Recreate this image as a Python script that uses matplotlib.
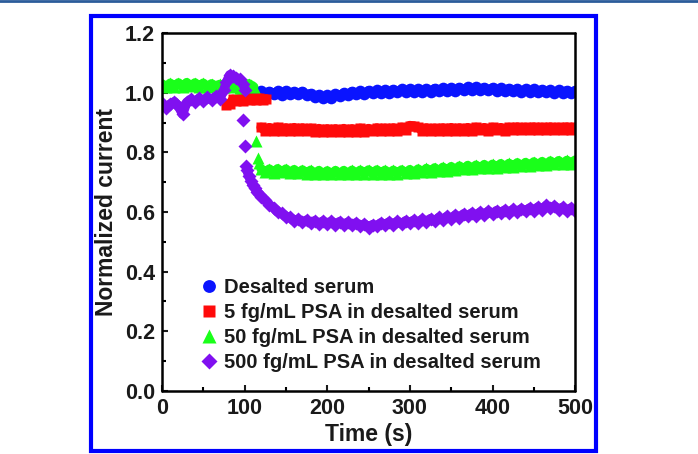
import numpy as np
import matplotlib.pyplot as plt
from matplotlib.lines import Line2D
from matplotlib.patches import Rectangle
from matplotlib.ticker import MultipleLocator

plt.rcParams['font.family'] = ['Liberation Sans', 'DejaVu Sans']
plt.rcParams['font.weight'] = 'bold'

# Desalted serum
blue_t = list(range(100, 501, 5))
blue_y = [1.006, 0.996, 1.005, 0.997, 1.006, 0.995, 1.004, 0.996, 1.005, 0.994,
          1.006, 0.997, 1.003, 0.995, 1.004, 0.992, 0.997, 0.987, 0.993, 0.983,
          0.991, 0.984, 0.995, 0.989, 0.999, 0.992, 1.004, 0.995, 1.005, 0.997,
          1.007, 0.998, 1.008, 0.999, 1.009, 1.000, 1.010, 1.001, 1.011, 1.002,
          1.012, 1.003, 1.012, 1.004, 1.013, 1.004, 1.014, 1.005, 1.015, 1.006,
          1.016, 1.007, 1.017, 1.008, 1.018, 1.009, 1.018, 1.008, 1.017, 1.008,
          1.016, 1.007, 1.015, 1.006, 1.014, 1.005, 1.013, 1.004, 1.012, 1.003,
          1.011, 1.002, 1.010, 1.001, 1.009, 1.000, 1.008, 0.999, 1.007, 0.998,
          1.006]

# 5 fg/mL PSA
red_t = [78, 82, 86, 90, 94, 98, 102, 106, 110, 114, 118, 122, 126] + list(range(120, 501, 5))
red_y = [0.958, 0.962, 0.978, 0.972, 0.980, 0.974, 0.981, 0.975, 0.982, 0.976,
         0.983, 0.977, 0.980,
         0.884, 0.873, 0.883, 0.872, 0.884, 0.873, 0.882, 0.871, 0.883, 0.872,
         0.882, 0.871, 0.881, 0.870, 0.880, 0.869, 0.879, 0.868, 0.879, 0.869,
         0.880, 0.869, 0.879, 0.870, 0.881, 0.870, 0.880, 0.871, 0.882, 0.872,
         0.881, 0.872, 0.882, 0.873, 0.884, 0.876, 0.890, 0.888, 0.884, 0.873,
         0.882, 0.872, 0.881, 0.872, 0.882, 0.873, 0.883, 0.873, 0.882, 0.872,
         0.883, 0.873, 0.884, 0.874, 0.883, 0.873, 0.884, 0.874, 0.883, 0.873,
         0.884, 0.874, 0.885, 0.875, 0.884, 0.874, 0.885, 0.875, 0.884, 0.874,
         0.885, 0.875, 0.884, 0.874, 0.885, 0.875, 0.884]

# 50 fg/mL PSA
green_t = [0, 5, 10, 15, 20, 25, 30, 35, 40, 45, 50, 55, 60, 65, 70, 75, 80, 85,
           90, 95, 100, 105, 108, 111, 114, 116, 118] + list(range(120, 501, 5))
green_y = [1.030, 1.018, 1.032, 1.020, 1.033, 1.021, 1.034, 1.022, 1.033, 1.021,
           1.032, 1.020, 1.030, 1.022, 1.028, 1.020, 1.025, 1.018, 1.024, 1.017,
           1.022, 1.030, 1.025, 1.020, 0.837, 0.780, 0.765,
           0.745, 0.733, 0.744, 0.732, 0.745, 0.733, 0.744, 0.731, 0.742, 0.730,
           0.741, 0.729, 0.740, 0.728, 0.739, 0.727, 0.738, 0.727, 0.739, 0.727,
           0.739, 0.728, 0.740, 0.728, 0.740, 0.729, 0.741, 0.729, 0.741, 0.729,
           0.740, 0.728, 0.740, 0.729, 0.741, 0.730, 0.742, 0.731, 0.744, 0.733,
           0.746, 0.735, 0.748, 0.737, 0.750, 0.739, 0.752, 0.741, 0.754, 0.743,
           0.756, 0.745, 0.757, 0.746, 0.759, 0.748, 0.760, 0.749, 0.762, 0.751,
           0.763, 0.752, 0.765, 0.754, 0.766, 0.755, 0.768, 0.757, 0.769, 0.758,
           0.771, 0.760, 0.772, 0.761, 0.773, 0.762, 0.774]

# 500 fg/mL PSA
purple_t = [0, 5, 10, 15, 20, 25, 30, 35, 40, 45, 50, 55, 60, 65, 70, 75, 78, 82,
            86, 90, 94, 98, 101, 97.7, 100.5, 102, 103, 105, 107.5, 110, 112.5,
            115, 117.5] + list(range(120, 501, 5))
purple_y = [0.965, 0.950, 0.962, 0.970, 0.955, 0.928, 0.968, 0.978, 0.970, 0.982,
            0.973, 0.985, 0.976, 0.988, 0.980, 1.010, 1.035, 1.060, 1.055, 1.050,
            1.045, 1.030, 1.010, 0.910, 0.822, 0.753, 0.740, 0.722, 0.705, 0.690,
            0.680, 0.668, 0.660,
            0.652, 0.640, 0.624, 0.615, 0.600, 0.596, 0.584, 0.582, 0.571, 0.576,
            0.565, 0.573, 0.562, 0.571, 0.560, 0.570, 0.559, 0.569, 0.558, 0.568,
            0.557, 0.566, 0.555, 0.564, 0.552, 0.560, 0.548, 0.558, 0.553, 0.564,
            0.556, 0.567, 0.558, 0.569, 0.560, 0.571, 0.562, 0.573, 0.564, 0.576,
            0.566, 0.578, 0.569, 0.582, 0.573, 0.586, 0.577, 0.590, 0.581, 0.594,
            0.585, 0.597, 0.588, 0.600, 0.591, 0.603, 0.594, 0.605, 0.596, 0.607,
            0.598, 0.609, 0.600, 0.611, 0.602, 0.614, 0.605, 0.617, 0.608, 0.622,
            0.613, 0.620, 0.608, 0.616, 0.604, 0.614, 0.603]

labels = ['Desalted serum', '5 fg/mL PSA in desalted serum',
          '50 fg/mL PSA in desalted serum', '500 fg/mL PSA in desalted serum']

# index ranges of the continuous (noisy band) parts of each trace
blue_runs = [(0, len(blue_t))]
red_runs = [(0, 13), (13, len(red_t))]
green_runs = [(0, 24), (27, len(green_t))]
purple_runs = [(0, 23), (26, len(purple_t))]

fig = plt.figure(figsize=(6.98, 4.54), dpi=100)
ax = fig.add_axes([0.232, 0.139, 0.592, 0.788])


def draw(t, y, runs, marker, color, ms, label):
    # thick line underneath fills the gaps between samples like the dense record
    for a, b in runs:
        ax.plot(t[a:b], y[a:b], '-', color=color, lw=6.8, solid_capstyle='round',
                solid_joinstyle='round')
    ax.plot(t, y, marker, color=color, ms=ms, mec='none', label=label)


ms = 8.4
draw(blue_t, blue_y, blue_runs, 'o', '#0a14ff', ms, labels[0])
draw(red_t, red_y, red_runs, 's', '#ff0a0a', ms - 0.7, labels[1])
draw(green_t, green_y, green_runs, '^', '#1aff1a', ms + 0.3, labels[2])
draw(purple_t, purple_y, purple_runs, 'D', '#8010f0', ms - 1.2, labels[3])

ax.set_xlim(0, 500)
ax.set_ylim(0, 1.2)
ax.xaxis.set_major_locator(MultipleLocator(100))
ax.xaxis.set_minor_locator(MultipleLocator(50))
ax.yaxis.set_major_locator(MultipleLocator(0.2))
ax.yaxis.set_minor_locator(MultipleLocator(0.1))
ax.yaxis.set_major_formatter(plt.FuncFormatter(lambda v, p: f'{v:.1f}'))

for s in ax.spines.values():
    s.set_linewidth(1.8)
    s.set_capstyle('round')
ax.tick_params(which='major', direction='in', length=4, width=1.5,
               labelsize=15.5, pad=5, colors='#1a1a1a')
ax.tick_params(which='minor', direction='in', length=3, width=1.5)

ax.set_xlabel('Time (s)', fontsize=16.5, fontweight='bold', color='#1a1a1a', labelpad=3)
ax.set_ylabel('Normalized current', fontsize=16.5, fontweight='bold', color='#1a1a1a', labelpad=5)

leg = ax.legend(loc='lower left', bbox_to_anchor=(0.045, 0.003), frameon=False,
                fontsize=14.5, handletextpad=0.25, labelspacing=0.3, handlelength=1.0,
                markerscale=1.1)
for t in leg.get_texts():
    t.set_color('#1a1a1a')
    t.set_fontweight('bold')

# page decorations
fig.add_artist(Line2D([0, 1], [0.997, 0.997], transform=fig.transFigure,
                      color='#2b5c9a', lw=2))
fig.add_artist(Rectangle((0.130, 0.0066), 0.724, 0.958, transform=fig.transFigure,
                         fill=False, edgecolor='#0000ff', lw=3))

fig.savefig('out.png', dpi=100)
